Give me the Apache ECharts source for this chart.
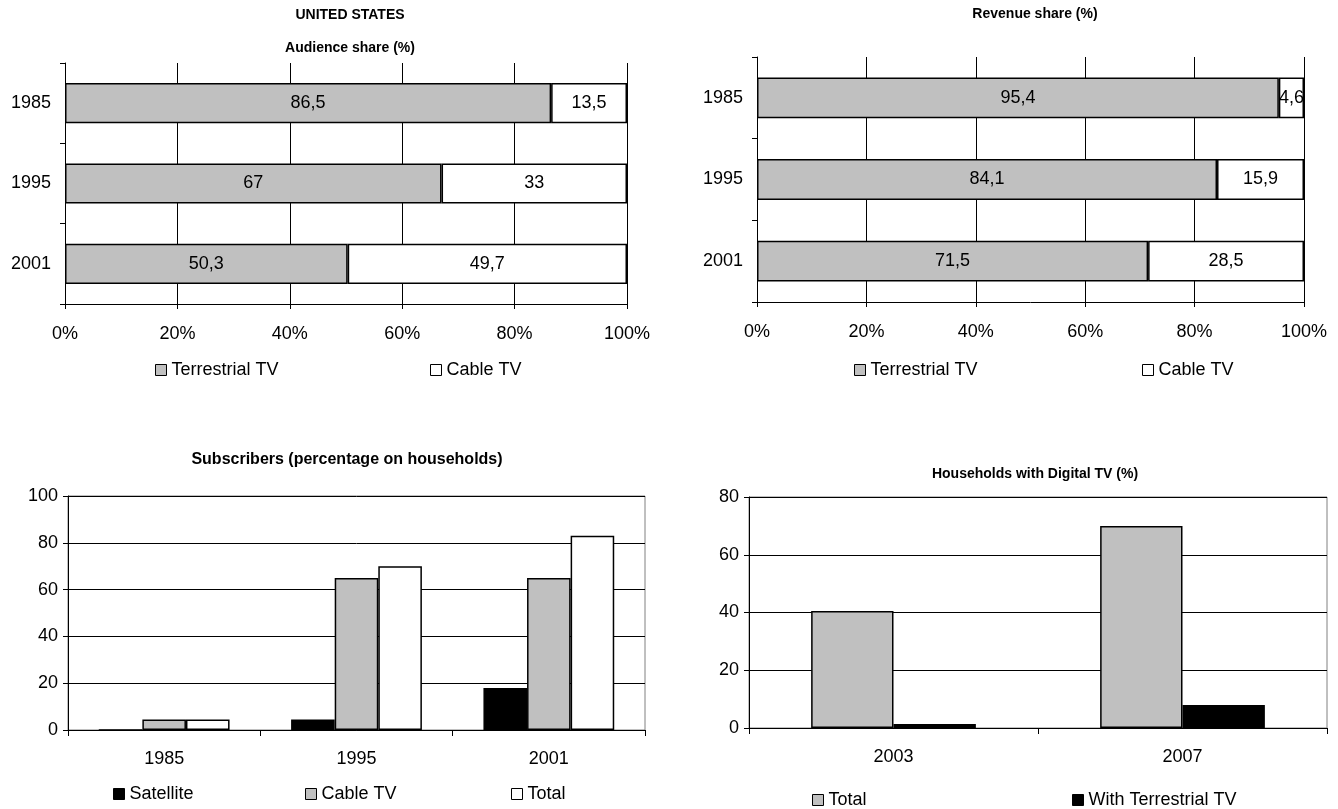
<!DOCTYPE html>
<html>
<head>
<meta charset="utf-8">
<script src="https://cdn.jsdelivr.net/npm/echarts@6/dist/echarts.min.js"></script>
<style>
  html, body { margin: 0; padding: 0; background: #fff; }
  #chart { width: 1338px; height: 809px; }
</style>
</head>
<body>
<div id="chart"></div>
<script>
// ---- Data ----
const shareYears = ['1985', '1995', '2001'];
const audienceTerrestrial = [86.5, 67, 50.3];
const audienceCable = [13.5, 33, 49.7];
const revenueTerrestrial = [95.4, 84.1, 71.5];
const revenueCable = [4.6, 15.9, 28.5];

const subsYears = ['1985', '1995', '2001'];
const subsSatellite = [0, 4.5, 18];
const subsCable = [4.5, 65, 65];
const subsTotal = [4.5, 70, 83];

const digitalYears = ['2003', '2007'];
const digitalTotal = [40.5, 70];
const digitalTerrestrial = [1.4, 8];

const pctTicks = [0, 20, 40, 60, 80, 100];

// ---- Styles ----
const FONT = 'Liberation Sans, Arial, sans-serif';
const FS = 18;
const GRAY = '#C0C0C0';
const txt = { fontFamily: FONT, fontSize: FS, color: '#000' };
const fmtComma = p => String(p.value).replace('.', ',');

const chart = echarts.init(document.getElementById('chart'));

function legendItem(name, color, left, top) {
  return {
    data: [{ name: name, itemStyle: { color: color, borderColor: '#000', borderWidth: 1 } }],
    left: left, top: top, itemWidth: 11, itemHeight: 11,
    icon: 'rect', selectedMode: false,
    textStyle: { fontFamily: FONT, fontSize: FS, color: '#000' },
    padding: 0, itemGap: 6
  };
}

const pctXAxis = (gridIndex) => ({
  type: 'value', gridIndex: gridIndex, min: 0, max: 100, interval: 20,
  axisLine: { show: true, lineStyle: { color: '#000', width: 1 } },
  axisTick: { show: true, length: 5, lineStyle: { color: '#000' } },
  axisLabel: Object.assign({ margin: 21, formatter: v => pctTicks.includes(v) ? v + '%' : '' }, txt),
  splitLine: { show: true, lineStyle: { color: '#000', width: 1 } }
});

const catYAxis = (gridIndex) => ({
  type: 'category', gridIndex: gridIndex, data: shareYears, inverse: true,
  axisLine: { show: true, lineStyle: { color: '#000', width: 1 } },
  axisTick: { show: true, length: 5, lineStyle: { color: '#000' } },
  axisLabel: Object.assign({ margin: 14 }, txt)
});

const barLabel = { show: true, position: 'inside', formatter: fmtComma, fontFamily: FONT, fontSize: FS, color: '#000' };
const grayStyle = { color: GRAY, borderColor: '#000', borderWidth: 1.5 };
const whiteStyle = { color: '#fff', borderColor: '#000', borderWidth: 1.5 };
const blackStyle = { color: '#000', borderColor: '#000', borderWidth: 1.5 };
const titleStyle = { fontFamily: FONT, fontSize: 14, fontWeight: 'bold', color: '#000' };

const option = {
  backgroundColor: '#fff',
  animation: false,
  title: [
    { text: 'UNITED STATES\nAudience share (%)', left: 345, top: -6, textAlign: 'center',
      textStyle: Object.assign({ lineHeight: 33 }, titleStyle) },
    { text: 'Revenue share (%)', left: 1030, top: 2, textAlign: 'center', textStyle: titleStyle },
    { text: 'Subscribers (percentage on households)', left: 342, top: 447, textAlign: 'center',
      textStyle: Object.assign({}, titleStyle, { fontSize: 16 }) },
    { text: 'Households with Digital TV (%)', left: 1030, top: 462, textAlign: 'center', textStyle: titleStyle }
  ],
  legend: [
    legendItem('Terrestrial TV', GRAY, 155, 361),
    legendItem('Cable TV', '#fff', 430, 361),
    legendItem('Terrestrial TV', GRAY, 854, 361),
    legendItem('Cable TV', '#fff', 1142, 361),
    legendItem('Satellite', '#000', 113, 785),
    legendItem('Cable TV', GRAY, 305, 785),
    legendItem('Total', '#fff', 511, 785),
    legendItem('Total', GRAY, 812, 791),
    legendItem('With Terrestrial TV', '#000', 1072, 791)
  ],
  grid: [
    { left: 65, right: 711, top: 63, bottom: 505 },
    { left: 757, right: 34, top: 57, bottom: 507 },
    { left: 68, right: 693, top: 496, bottom: 79, show: true, borderColor: '#808080', borderWidth: 1 },
    { left: 749, right: 11, top: 497, bottom: 81, show: true, borderColor: '#808080', borderWidth: 1 }
  ],
  xAxis: [
    pctXAxis(0),
    pctXAxis(1),
    { type: 'category', gridIndex: 2, data: subsYears,
      axisLine: { show: true, lineStyle: { color: '#000' } },
      axisTick: { show: true, length: 6, lineStyle: { color: '#000' } },
      axisLabel: Object.assign({ margin: 20 }, txt) },
    { type: 'category', gridIndex: 3, data: digitalYears,
      axisLine: { show: true, lineStyle: { color: '#000' } },
      axisTick: { show: true, length: 6, lineStyle: { color: '#000' } },
      axisLabel: Object.assign({ margin: 20 }, txt) }
  ],
  yAxis: [
    catYAxis(0),
    catYAxis(1),
    { type: 'value', gridIndex: 2, min: 0, max: 100, interval: 20,
      axisLine: { show: true, lineStyle: { color: '#000' } },
      axisTick: { show: true, length: 5, lineStyle: { color: '#000' } },
      axisLabel: Object.assign({ margin: 10 }, txt),
      splitLine: { show: true, lineStyle: { color: '#000' } } },
    { type: 'value', gridIndex: 3, min: 0, max: 80, interval: 20,
      axisLine: { show: true, lineStyle: { color: '#000' } },
      axisTick: { show: true, length: 5, lineStyle: { color: '#000' } },
      axisLabel: Object.assign({ margin: 10 }, txt),
      splitLine: { show: true, lineStyle: { color: '#000' } } }
  ],
  series: [
    { name: 'Terrestrial TV', type: 'bar', xAxisIndex: 0, yAxisIndex: 0, stack: 'a', data: audienceTerrestrial,
      barWidth: '50%', itemStyle: grayStyle, label: barLabel },
    { name: 'Cable TV', type: 'bar', xAxisIndex: 0, yAxisIndex: 0, stack: 'a', data: audienceCable,
      barWidth: '50%', itemStyle: whiteStyle, label: barLabel },
    { name: 'Terrestrial TV', type: 'bar', xAxisIndex: 1, yAxisIndex: 1, stack: 'b', data: revenueTerrestrial,
      barWidth: '50%', itemStyle: grayStyle, label: barLabel },
    { name: 'Cable TV', type: 'bar', xAxisIndex: 1, yAxisIndex: 1, stack: 'b', data: revenueCable,
      barWidth: '50%', itemStyle: whiteStyle, label: barLabel },
    { name: 'Satellite', type: 'bar', xAxisIndex: 2, yAxisIndex: 2, data: subsSatellite,
      barGap: '0%', barCategoryGap: '32%', itemStyle: blackStyle },
    { name: 'Cable TV', type: 'bar', xAxisIndex: 2, yAxisIndex: 2, data: subsCable,
      barGap: '0%', barCategoryGap: '32%', itemStyle: grayStyle },
    { name: 'Total', type: 'bar', xAxisIndex: 2, yAxisIndex: 2, data: subsTotal,
      barGap: '0%', barCategoryGap: '32%', itemStyle: whiteStyle },
    { name: 'Total', type: 'bar', xAxisIndex: 3, yAxisIndex: 3, data: digitalTotal,
      barGap: '0%', barCategoryGap: '43%', itemStyle: grayStyle },
    { name: 'With Terrestrial TV', type: 'bar', xAxisIndex: 3, yAxisIndex: 3, data: digitalTerrestrial,
      barGap: '0%', barCategoryGap: '43%', itemStyle: blackStyle }
  ]
};
chart.setOption(option);
</script>
</body>
</html>
